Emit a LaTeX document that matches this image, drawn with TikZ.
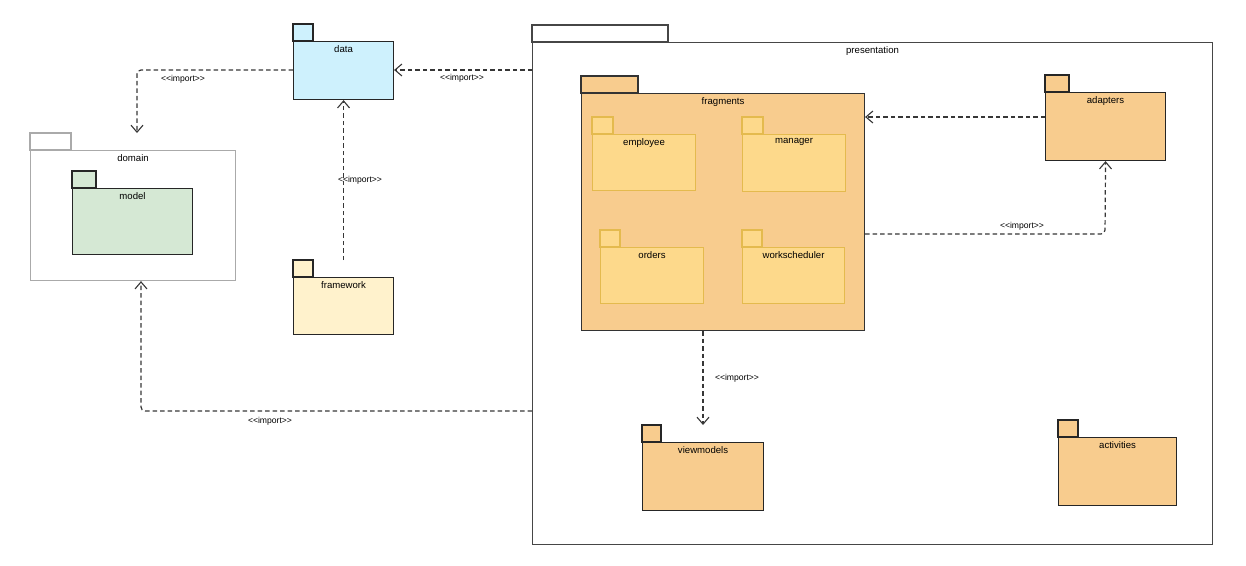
\documentclass[tikz,border=0pt]{standalone}
\usepackage{fontspec}
\setmainfont{Liberation Sans}
% a copy of the family without TeX ligatures, so that << stays as two signs
\newfontfamily\stereofont{Liberation Sans}[Ligatures=ResetAll]
\usetikzlibrary{arrows.meta}

\definecolor{datafill}{RGB}{206,241,253}
\definecolor{modelfill}{RGB}{213,232,212}
\definecolor{fwfill}{RGB}{255,242,204}
\definecolor{orangefill}{RGB}{248,204,142}
\definecolor{subfill}{RGB}{253,217,139}
\definecolor{subdraw}{RGB}{228,186,78}
\definecolor{lightframe}{RGB}{170,170,170}
\definecolor{darkframe}{RGB}{70,70,70}
\definecolor{linkcol}{RGB}{55,55,55}

\newcommand\imptext{<<import>>}

\tikzset{
  x=1pt, y=-1pt,
  pkgbody/.style={draw, rectangle, anchor=north west, inner sep=0pt, line width=1.1pt},
  pkglabel/.style={anchor=north, inner sep=0pt, yshift=-4pt, font=\fontsize{9.6}{11}\selectfont},
  importlink/.style={draw=linkcol, line width=1.2pt, dash pattern=on 4.5pt off 3pt,
    rounded corners=4pt, -{Straight Barb[length=7pt,width=12pt,line width=1.1pt]}},
  implabel/.style={font=\stereofont\fontsize{8.6}{10}\selectfont, inner sep=1pt},
}

% name, x, y (top-left of body), width, height, tab width, label, fill, draw colour
\newcommand\pkgbox[9]{%
  \draw[line width=1.1pt, draw=#9, fill=#8] (#2,#3) rectangle ++(#6,-17);
  \node[pkgbody, draw=#9, fill=#8, minimum width=#4pt, minimum height=#5pt] (#1) at (#2,#3) {};
  \node[pkglabel] (#1-lbl) at (#1.north) {#7};
}

\begin{document}
\begin{tikzpicture}
\useasboundingbox (0,0) rectangle (1246,565);

% outer packages
\pkgbox{presentation}{532}{42}{680}{502}{136}{presentation}{white}{darkframe}
\pkgbox{domain}{30}{150}{205}{130}{41}{domain}{white}{lightframe}
\pkgbox{data}{293}{41}{100}{58}{20}{data}{datafill}{black!85}
\pkgbox{framework}{293}{277}{100}{57}{20}{framework}{fwfill}{black!85}

% domain contents
\pkgbox{model}{72}{188}{120}{66}{24}{model}{modelfill}{black!85}

% presentation contents
\pkgbox{fragments}{581}{93}{283}{237}{57}{fragments}{orangefill}{black!80}
\pkgbox{employee}{592}{134}{103}{56}{21}{employee}{subfill}{subdraw}
\pkgbox{manager}{742}{134}{103}{57}{21}{manager}{subfill}{subdraw}
\pkgbox{orders}{600}{247}{103}{56}{20}{orders}{subfill}{subdraw}
\pkgbox{workscheduler}{742}{247}{102}{56}{20}{workscheduler}{subfill}{subdraw}
\pkgbox{adapters}{1045}{92}{120}{68}{24}{adapters}{orangefill}{black!85}
\pkgbox{viewmodels}{642}{442}{121}{68}{19}{viewmodels}{orangefill}{black!85}
\pkgbox{activities}{1058}{437}{118}{68}{20}{activities}{orangefill}{black!85}

% import dependencies
\coordinate (presA) at (presentation.west |- 0,70);
\draw[importlink] (presA) -- (data.east |- presA);
\node[implabel] (lblPDa) at (462,78) {\imptext};

\coordinate (dataW) at (data.west |- 0,70);
\draw[importlink] (dataW) -- (137,70) -- (137,133);
\node[implabel] (lblDD) at (183,79) {\imptext};

\coordinate (fwTop) at (data.south |- 0,260);
\draw[importlink] (fwTop) -- (data.south);
\node[implabel] (lblFW) at (360,180) {\imptext};

\coordinate (presB) at (presentation.west |- 0,411);
\draw[importlink] (presB) -- (141,411) -- (domain.south -| 141,0);
\node[implabel] (lblPD) at (270,421) {\imptext};

\coordinate (adW) at (adapters.west |- 0,117);
\draw[importlink] (adW) -- (fragments.east |- adW);

\coordinate (frE) at (fragments.east |- 0,234);
\draw[importlink] (frE) -- (1105,234) -- (adapters.south);
\node[implabel] (lblFA) at (1022,226) {\imptext};

\coordinate (frS) at (fragments.south -| 703,0);
\draw[importlink] (frS) -- (703,425);
\node[implabel] (lblFV) at (737,378) {\imptext};

\end{tikzpicture}
\end{document}
